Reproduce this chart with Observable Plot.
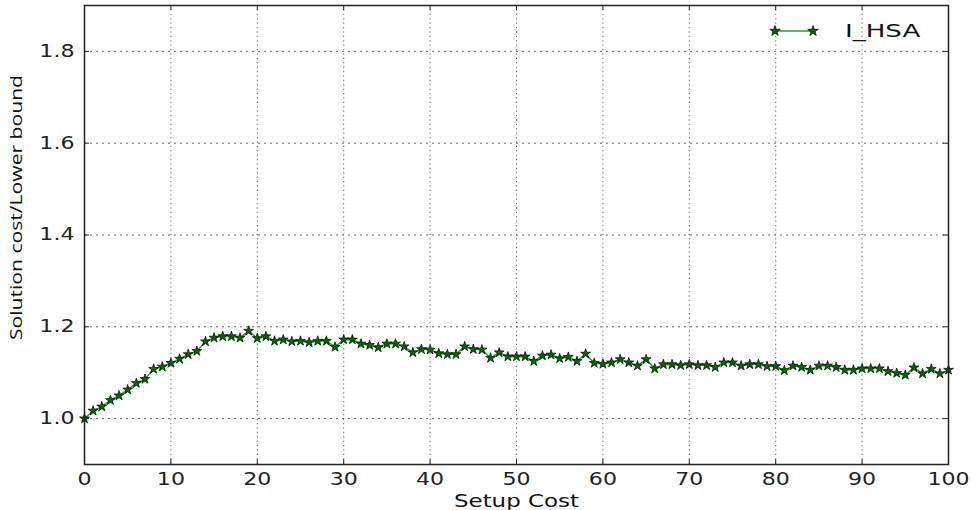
<!DOCTYPE html>
<html><head><meta charset="utf-8">
<script src="https://cdn.jsdelivr.net/npm/d3@7"></script>
<script src="https://cdn.jsdelivr.net/npm/@observablehq/plot@0.6"></script>
<style>body{margin:0;background:#fff} svg{display:block}</style>
</head><body><div id="chart"></div>
<script>
const setupCost = [0,1,2,3,4,5,6,7,8,9,10,11,12,13,14,15,16,17,18,19,20,21,22,23,24,25,26,27,28,29,30,31,32,33,34,35,36,37,38,39,40,41,42,43,44,45,46,47,48,49,50,51,52,53,54,55,56,57,58,59,60,61,62,63,64,65,66,67,68,69,70,71,72,73,74,75,76,77,78,79,80,81,82,83,84,85,86,87,88,89,90,91,92,93,94,95,96,97,98,99,100];
const ratio = [1.000,1.017,1.026,1.040,1.050,1.063,1.077,1.086,1.108,1.113,
1.121,1.130,1.140,1.147,1.168,1.176,1.179,1.179,1.176,1.191,
1.175,1.179,1.169,1.172,1.168,1.169,1.166,1.169,1.169,1.156,
1.172,1.172,1.163,1.160,1.155,1.163,1.163,1.157,1.144,1.151,
1.150,1.142,1.140,1.140,1.157,1.151,1.150,1.132,1.144,1.135,
1.135,1.135,1.125,1.137,1.139,1.131,1.134,1.125,1.141,1.121,
1.119,1.122,1.129,1.122,1.115,1.129,1.109,1.118,1.118,1.116,
1.118,1.116,1.116,1.112,1.122,1.122,1.115,1.118,1.118,1.114,
1.114,1.105,1.115,1.112,1.106,1.115,1.115,1.112,1.106,1.106,
1.109,1.109,1.109,1.103,1.099,1.095,1.111,1.098,1.108,1.098,1.106];
const xTicks = [0,10,20,30,40,50,60,70,80,90,100];
const yTicks = [1.0,1.2,1.4,1.6,1.8];
const seriesName = "I_HSA";
const xLabel = "Setup Cost";
const yLabel = "Solution cost/Lower bound";

const data = setupCost.map((x, i) => ({x, y: ratio[i]}));
const lineColor = "#22a022", markerFill = "#006a00";
const W = 971, H = 510, ML = 84, MR = 23, MT = 5, MB = 46;
const FW = W - ML - MR, FH = H - MT - MB;

const legendMark = (index, scales, values, dims) => {
  const g = d3.create("svg:g");
  const right = dims.width - dims.marginRight;
  const y = dims.marginTop + 26;
  const x1 = right - 173, x2 = right - 135;
  g.append("line").attr("x1", x1).attr("x2", x2).attr("y1", y).attr("y2", y)
    .attr("stroke", lineColor).attr("stroke-width", 1.5);
  const star = d3.symbol(d3.symbolStar, Math.PI * 3.3 * 3.3)();
  for (const x of [x1, x2]) g.append("path").attr("d", star)
    .attr("transform", `translate(${x},${y})`)
    .attr("fill", markerFill).attr("stroke", "#000").attr("stroke-width", 0.7);
  g.append("text").attr("class", "stretch").attr("x", right - 103).attr("y", y).attr("dy", "0.36em")
    .attr("text-anchor", "start")
    .attr("font-family", "DejaVu Sans").attr("font-size", 18).attr("fill", "#111").text(seriesName);
  return g.node();
};

const yLabelMark = (index, scales, values, dims) => {
  const cy = dims.marginTop + (dims.height - dims.marginTop - dims.marginBottom) / 2 - 27;
  const g = d3.create("svg:g").attr("transform", `translate(${dims.marginLeft - 68},${cy}) rotate(-90)`);
  g.append("text").attr("class", "ylabel").attr("x", -132.5).attr("y", 0).attr("dy", "0.36em")
    .attr("text-anchor", "start").attr("font-family", "Open Sans").attr("font-size", 17)
    .attr("fill", "#111").text(yLabel);
  return g.node();
};

const chart = Plot.plot({
  width: W, height: H,
  marginLeft: ML, marginRight: MR, marginTop: MT, marginBottom: MB,
  style: {fontFamily: "DejaVu Sans", background: "#fff", color: "#222"},
  x: {domain: [0, 100]},
  y: {domain: [0.9, 1.9]},
  marks: [
    Plot.gridX(xTicks, {stroke: "#666", strokeOpacity: 1, strokeDasharray: "1.2,3.2", strokeWidth: 1}),
    Plot.gridY(yTicks, {stroke: "#666", strokeOpacity: 1, strokeDasharray: "2,4", strokeWidth: 1}),
    Plot.ruleX(xTicks, {x: d => d, insetTop: FH - 5, stroke: "#222"}),
    Plot.ruleX(xTicks, {x: d => d, insetBottom: FH - 5, stroke: "#222"}),
    Plot.ruleY(yTicks, {y: d => d, insetRight: FW - 5, stroke: "#222"}),
    Plot.ruleY(yTicks, {y: d => d, insetLeft: FW - 5, stroke: "#222"}),
    Plot.axisX(xTicks, {tickSize: 0, tickPadding: 8, label: null, fontSize: 17}),
    Plot.axisY(yTicks, {tickSize: 0, tickPadding: 10, label: null, fontSize: 17, tickFormat: d3.format(".1f")}),
    Plot.line(data, {x: "x", y: "y", stroke: lineColor, strokeWidth: 1.5}),
    Plot.dot(data, {x: "x", y: "y", symbol: "star", r: 3.1, fill: markerFill, stroke: "#000", strokeWidth: 0.7}),
    Plot.frame({stroke: "#222", strokeWidth: 1.5}),
    Plot.text([xLabel], {text: d => d, frameAnchor: "bottom", lineAnchor: "top", dy: 30, fontSize: 17, fill: "#111", className: "xlab"}),
    yLabelMark,
    legendMark
  ]
});
document.getElementById("chart").append(chart);

const svg = d3.select(chart);
const stretch = function(k) {
  return function() {
    const len = this.getComputedTextLength();
    this.setAttribute("textLength", len * k);
    this.setAttribute("lengthAdjust", "spacingAndGlyphs");
  };
};
svg.selectAll("g[aria-label='x-axis tick label'] text, g[aria-label='y-axis tick label'] text").each(stretch(1.3));
svg.selectAll(".xlab text").each(stretch(1.35));
svg.selectAll("text.stretch").each(stretch(1.45));
svg.selectAll("text.ylabel").each(function() {
  this.setAttribute("textLength", 265);
  this.setAttribute("lengthAdjust", "spacingAndGlyphs");
});
</script>
</body></html>
